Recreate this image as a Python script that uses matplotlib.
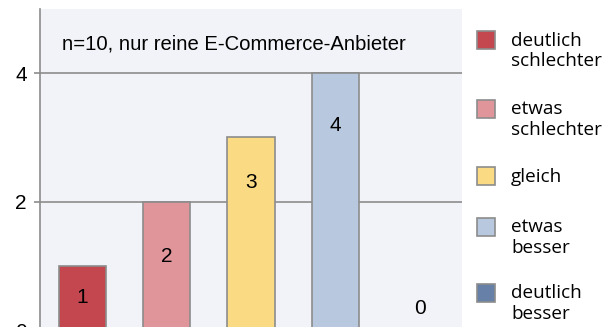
import matplotlib.pyplot as plt
from matplotlib.patches import Rectangle

categories = ['deutlich\nschlechter', 'etwas\nschlechter', 'gleich', 'etwas\nbesser', 'deutlich\nbesser']
counts = [1, 2, 3, 4, 0]
colors = ['#C4474F', '#E0959A', '#FADB83', '#B8C8DE', '#6680A8']
yticks = [0, 2, 4]
note = 'n=10, nur reine E-Commerce-Anbieter'

# where the count labels sit inside the bars (data units)
label_y = [0.5, 1.14, 2.3, 3.19, 0.34]

W, H = 605, 327
fig = plt.figure(figsize=(W / 100, H / 100), dpi=100)
ax = fig.add_axes([40 / W, -3 / H, 422 / W, 321 / H])
ax.set_facecolor('#F2F3F8')

gray = '#8C8C8C'
ax.set_ylim(0, 5)
ax.set_xlim(-0.5, len(counts) - 0.5)
ax.set_yticks(yticks)
ax.set_yticklabels([str(t) for t in yticks], fontsize=15, family='Liberation Sans')
ax.set_xticks([])
ax.tick_params(axis='y', color=gray, width=1.2, length=4.5, pad=5)
ax.grid(axis='y', color=gray, linewidth=1.2)
ax.set_axisbelow(True)
for s in ['top', 'right', 'bottom']:
    ax.spines[s].set_visible(False)
ax.spines['left'].set_color(gray)
ax.spines['left'].set_linewidth(1.2)

x = list(range(len(counts)))
ax.bar(x, counts, width=0.56, color=colors, edgecolor=gray, linewidth=1.2, zorder=3)
for xi, c, ly in zip(x, counts, label_y):
    ax.text(xi, ly, str(c), ha='center', va='center', fontsize=15,
            family='Liberation Sans', zorder=4)

ax.text(22 / 422, 0.891, note, transform=ax.transAxes, ha='left', va='center',
        fontsize=14.6, family='Liberation Sans')

# legend drawn by hand so the swatch lines up with the first text line
leg_y = [39.5, 108.5, 176, 226.5, 292.5]
for lab, col, yc in zip(categories, colors, leg_y):
    fig.patches.append(Rectangle((477 / W, 1 - (yc + 9) / H), 18 / W, 18 / H,
                                 transform=fig.transFigure, facecolor=col,
                                 edgecolor=gray, linewidth=1.2))
    for i, line in enumerate(lab.split('\n')):
        fig.text(511 / W, 1 - (yc + 1 + 20.5 * i) / H, line, ha='left', va='center',
                 fontsize=13.6, family='Open Sans')

fig.savefig('out.png', dpi=100)
